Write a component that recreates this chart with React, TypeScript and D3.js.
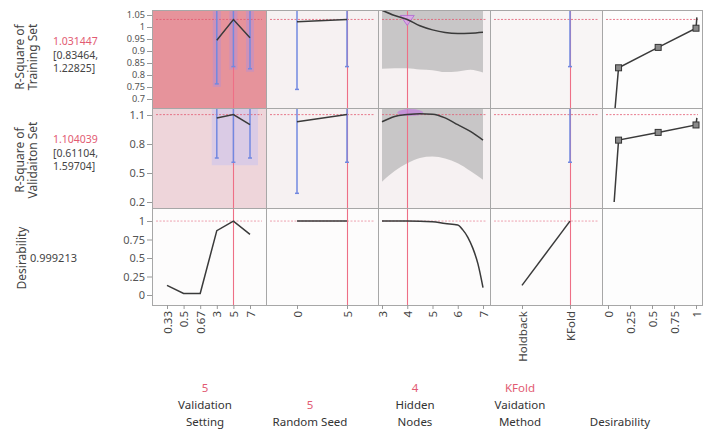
import React from "react";
import * as d3 from "d3";

const settingLevels = ["0.33", "0.5", "0.67", "3", "5", "7"];
const settingTrain = [null, null, null, 0.945, 1.031, 0.955];
const settingTrainLo = [null, null, null, 0.763, 0.835, 0.826];
const settingValid = [null, null, null, 1.069, 1.104, 1.0];
const settingValidLo = [null, null, null, 0.655, 0.611, 0.655];
const settingDesir = [0.13, 0.02, 0.02, 0.87, 0.999, 0.82];

const seedValues = [0, 5];
const seedTrain = [1.022, 1.031];
const seedTrainLo = [0.74, 0.835];
const seedValid = [1.03, 1.104];
const seedValidLo = [0.29, 0.611];
const seedDesir = [1, 0.999];

const nodeGrid = [3, 3.5, 4, 4.5, 5, 5.5, 6, 6.5, 7];
const nodesTrain = [1.07, 1.048, 1.031, 1.005, 0.988, 0.977, 0.973, 0.974, 0.978];
const nodesTrainLo = [0.826, 0.828, 0.828, 0.823, 0.82, 0.812, 0.815, 0.822, 0.81];
const nodesTrainHi = [1.32, 1.29, 1.27, 1.25, 1.24, 1.24, 1.25, 1.27, 1.3];
const nodesValid = [1.03, 1.085, 1.104, 1.113, 1.108, 1.07, 1.0, 0.93, 0.84];
const nodesValidLo = [0.41, 0.52, 0.6, 0.655, 0.67, 0.65, 0.6, 0.52, 0.43];
const nodesValidHi = [1.5, 1.55, 1.6, 1.62, 1.62, 1.6, 1.55, 1.5, 1.45];
const nodeDesirGrid = [3, 4, 5, 5.5, 6, 6.2, 6.4, 6.6, 6.8, 7];
const nodesDesir = [1, 1, 0.99, 0.965, 0.945, 0.88, 0.78, 0.63, 0.42, 0.1];

const methodLevels = ["Holdback", "KFold"];
const methodTrainLo = [null, 0.835];
const methodValidLo = [null, 0.611];
const methodDesir = [0.13, 0.999];

const desirTrainD = [0.08, 0.12, 0.57, 1.0, 1.01];
const desirTrainR = [0.66, 0.83, 0.915, 0.995, 1.04];
const desirValidD = [0.07, 0.12, 0.57, 1.0, 1.01];
const desirValidR = [0.2, 0.84, 0.92, 0.997, 1.07];

const trainTicks = [1.05, 1, 0.95, 0.9, 0.85, 0.8, 0.75, 0.7];
const validTicks = [1.1, 0.8, 0.5, 0.2];
const desirTicks = [1, 0.75, 0.5, 0.25, 0];
const seedTicks = [0, 5];
const nodeTicks = [3, 4, 5, 6, 7];
const desirXTicks = [0, 0.25, 0.5, 0.75, 1];

const currentSetting = "5";
const currentSeed = 5;
const currentNodes = 4;
const currentMethod = "KFold";
const trainValue = 1.031447;
const validValue = 1.104039;
const desirValue = 0.999213;

const factorNames = [["Validation", "Setting"], ["Random Seed"], ["Hidden", "Nodes"], ["Vaidation", "Method"], ["Desirability"]];
const factorValues = ["5", "5", "4", "KFold", ""];

const FONT = "'Noto Sans', 'Open Sans', sans-serif";
const RED = "#e25a72";

function App() {
  const ref = React.useRef(null);

  React.useEffect(() => {
    const svg = d3.select(ref.current);
    svg.selectAll("*").remove();

    const cols = [
      [152, 266],
      [266, 378],
      [378, 490],
      [490, 602],
      [602, 702],
    ];
    const rows = [
      [10, 108],
      [108, 208],
      [208, 305],
    ];

    const yScales = [
      d3.scaleLinear().domain([0.7, 1.05]).range([99, 15]),
      d3.scaleLinear().domain([0.2, 1.1]).range([202, 115]),
      d3.scaleLinear().domain([0, 1]).range([295, 221]),
    ];
    const yTicks = [trainTicks, validTicks, desirTicks];
    const yFont = ["9.2px", "11px", "11px"];

    const xSetting = d3.scalePoint().domain(settingLevels).range([167, 250]);
    const xSeed = d3.scaleLinear().domain([0, 5]).range([297, 347]);
    const xNodes = d3.scaleLinear().domain([3, 7]).range([382, 483]);
    const xMethod = d3.scalePoint().domain(methodLevels).range([522, 570]);
    const xDesir = d3.scaleLinear().domain([0, 1]).range([608, 696]);

    const bg = [
      ["#e6939b", "#f6f1f2", "#f6f1f2", "#f8f5f5", "#fdfdfd"],
      ["#eed5da", "#f6f1f2", "#f6f1f2", "#f8f5f5", "#fdfdfd"],
      ["#fdfcfc", "#fdfcfc", "#fdfcfc", "#fdfcfc", "#fdfdfd"],
    ];

    const defs = svg.append("defs");
    rows.forEach((r, ri) =>
      cols.forEach((c, ci) => {
        defs
          .append("clipPath")
          .attr("id", `clip-${ri}-${ci}`)
          .append("rect")
          .attr("x", c[0])
          .attr("y", r[0])
          .attr("width", c[1] - c[0])
          .attr("height", r[1] - r[0]);
      })
    );

    // backgrounds
    rows.forEach((r, ri) =>
      cols.forEach((c, ci) => {
        svg
          .append("rect")
          .attr("x", c[0])
          .attr("y", r[0])
          .attr("width", c[1] - c[0])
          .attr("height", r[1] - r[0])
          .attr("fill", bg[ri][ci]);
      })
    );

    const panel = (ri, ci) => svg.append("g").attr("clip-path", `url(#clip-${ri}-${ci})`);

    const line = (g, xs, ys, yS, curve = d3.curveLinear) => {
      const pts = xs.map((x, i) => [x, ys[i]]).filter((p) => p[1] != null).map((p) => [p[0], yS(p[1])]);
      g.append("path")
        .attr("d", d3.line().curve(curve)(pts))
        .attr("fill", "none")
        .attr("stroke", "#3a3a3a")
        .attr("stroke-width", 1.5);
    };

    const errBar = (g, x, lo, yS, top) => {
      g.append("line")
        .attr("x1", x).attr("x2", x)
        .attr("y1", top).attr("y2", yS(lo))
        .attr("stroke", "#7288e0")
        .attr("stroke-width", 1.5);
      g.append("line")
        .attr("x1", x - 2).attr("x2", x + 2)
        .attr("y1", yS(lo)).attr("y2", yS(lo))
        .attr("stroke", "#7288e0")
        .attr("stroke-width", 1.5);
    };

    const refLines = (g, ri, ci, xCur) => {
      const [x0, x1] = cols[ci];
      const [y0, y1] = rows[ri];
      const val = [trainValue, validValue, desirValue][ri];
      g.append("line")
        .attr("x1", x0 + 4).attr("x2", x1 - 4)
        .attr("y1", yScales[ri](val)).attr("y2", yScales[ri](val))
        .attr("stroke", RED)
        .attr("stroke-opacity", ri === 2 ? 0.55 : 0.8)
        .attr("stroke-dasharray", "2,1.5");
      if (xCur != null) {
        g.append("line")
          .attr("x1", Math.round(xCur) + 0.5).attr("x2", Math.round(xCur) + 0.5)
          .attr("y1", y0).attr("y2", y1)
          .attr("stroke", "#ee6f86")
          .attr("stroke-width", 1.1);
      }
    };

    // ---- column 1: Validation Setting ----
    {
      const xs = settingLevels.map((l) => xSetting(l));
      const g0 = panel(0, 0);
      settingTrainLo.forEach((lo, i) => {
        if (lo == null) return;
        g0.append("rect")
          .attr("x", xs[i] - 4).attr("width", 8)
          .attr("y", rows[0][0]).attr("height", yScales[0](lo) - rows[0][0] + 3)
          .attr("fill", "#a98ee0").attr("opacity", 0.4);
      });
      refLines(g0, 0, 0, xSetting(currentSetting));
      settingTrainLo.forEach((lo, i) => lo != null && errBar(g0, xs[i], lo, yScales[0], rows[0][0]));
      line(g0, xs, settingTrain, yScales[0]);

      const g1 = panel(1, 0);
      const validIdx = settingValidLo.map((v, i) => (v == null ? -1 : i)).filter((i) => i >= 0);
      g1.append("rect")
        .attr("x", xs[validIdx[0]] - 5)
        .attr("width", xs[validIdx[validIdx.length - 1]] - xs[validIdx[0]] + 13)
        .attr("y", rows[1][0])
        .attr("height", d3.max(validIdx, (i) => yScales[1](settingValidLo[i])) - rows[1][0] + 3)
        .attr("fill", "#d2c6ea").attr("opacity", 0.7);
      refLines(g1, 1, 0, xSetting(currentSetting));
      settingValidLo.forEach((lo, i) => lo != null && errBar(g1, xs[i], lo, yScales[1], rows[1][0]));
      line(g1, xs, settingValid, yScales[1]);

      const g2 = panel(2, 0);
      refLines(g2, 2, 0, xSetting(currentSetting));
      line(g2, xs, settingDesir, yScales[2]);
    }

    // ---- column 2: Random Seed ----
    {
      const xs = seedValues.map((v) => xSeed(v));
      const g0 = panel(0, 1);
      refLines(g0, 0, 1, xSeed(currentSeed));
      seedTrainLo.forEach((lo, i) => errBar(g0, xs[i], lo, yScales[0], rows[0][0]));
      line(g0, xs, seedTrain, yScales[0]);
      const g1 = panel(1, 1);
      refLines(g1, 1, 1, xSeed(currentSeed));
      seedValidLo.forEach((lo, i) => errBar(g1, xs[i], lo, yScales[1], rows[1][0]));
      line(g1, xs, seedValid, yScales[1]);
      const g2 = panel(2, 1);
      refLines(g2, 2, 1, xSeed(currentSeed));
      line(g2, xs, seedDesir, yScales[2]);
    }

    // ---- column 3: Hidden Nodes ----
    {
      const band = (g, lo, hi, yS) => {
        g.append("path")
          .attr(
            "d",
            d3
              .area()
              .curve(d3.curveMonotoneX)
              .x((d, i) => xNodes(nodeGrid[i]))
              .y0((d, i) => yS(lo[i]))
              .y1((d, i) => yS(hi[i]))(nodeGrid)
          )
          .attr("fill", "#bdbbbc")
          .attr("opacity", 0.8);
      };
      const nx = nodeGrid.map((v) => xNodes(v));
      const g0 = panel(0, 2);
      band(g0, nodesTrainLo, nodesTrainHi, yScales[0]);
      refLines(g0, 0, 2, xNodes(currentNodes));
      const tx = xNodes(currentNodes);
      const ty = yScales[0](trainValue);
      g0.append("path")
        .attr("d", `M${tx - 7},${ty - 4}L${tx + 7},${ty - 4}L${tx},${ty + 6}Z`)
        .attr("fill", "#dca6ec").attr("stroke", "#b46ad6").attr("stroke-width", 1)
        .attr("opacity", 0.85);
      line(g0, nx, nodesTrain, yScales[0], d3.curveMonotoneX);

      const g1 = panel(1, 2);
      band(g1, nodesValidLo, nodesValidHi, yScales[1]);
      refLines(g1, 1, 2, xNodes(currentNodes));
      g1.append("ellipse")
        .attr("cx", xNodes(currentNodes) + 3).attr("cy", yScales[1](validValue) - 2)
        .attr("rx", 13).attr("ry", 3.5)
        .attr("fill", "#c27ae0").attr("opacity", 0.65);
      line(g1, nx, nodesValid, yScales[1], d3.curveMonotoneX);

      const g2 = panel(2, 2);
      refLines(g2, 2, 2, xNodes(currentNodes));
      line(g2, nodeDesirGrid.map((v) => xNodes(v)), nodesDesir, yScales[2], d3.curveMonotoneX);
    }

    // ---- column 4: Validation Method ----
    {
      const xs = methodLevels.map((l) => xMethod(l));
      const g0 = panel(0, 3);
      refLines(g0, 0, 3, xMethod(currentMethod));
      methodTrainLo.forEach((lo, i) => lo != null && errBar(g0, xs[i], lo, yScales[0], rows[0][0]));
      const g1 = panel(1, 3);
      refLines(g1, 1, 3, xMethod(currentMethod));
      methodValidLo.forEach((lo, i) => lo != null && errBar(g1, xs[i], lo, yScales[1], rows[1][0]));
      const g2 = panel(2, 3);
      refLines(g2, 2, 3, xMethod(currentMethod));
      line(g2, xs, methodDesir, yScales[2]);
    }

    // ---- column 5: Desirability functions ----
    {
      const draw = (ri, ds, rs) => {
        const g = panel(ri, 4);
        refLines(g, ri, 4, null);
        const pts = ds.map((d, i) => [xDesir(d), yScales[ri](rs[i])]);
        g.append("path")
          .attr("d", d3.line()(pts))
          .attr("fill", "none").attr("stroke", "#3a3a3a").attr("stroke-width", 1.5);
        pts.slice(1, 4).forEach((p) =>
          g.append("rect")
            .attr("x", p[0] - 3).attr("y", p[1] - 3)
            .attr("width", 6).attr("height", 6)
            .attr("fill", "#8a8a8a").attr("stroke", "#333").attr("stroke-width", 1)
        );
      };
      draw(0, desirTrainD, desirTrainR);
      draw(1, desirValidD, desirValidR);
    }

    // panel borders
    rows.forEach((r) =>
      cols.forEach((c) => {
        svg.append("rect")
          .attr("x", c[0] + 0.5).attr("y", r[0] + 0.5)
          .attr("width", c[1] - c[0]).attr("height", r[1] - r[0])
          .attr("fill", "none").attr("stroke", "#a7a7a7");
      })
    );

    // y axes
    yScales.forEach((yS, ri) => {
      const ax = svg.append("g").attr("transform", `translate(${cols[0][0]},0)`)
        .call(d3.axisLeft(yS).tickValues(yTicks[ri]).tickSize(5).tickSizeOuter(0).tickFormat(d3.format("")));
      ax.select(".domain").remove();
      ax.selectAll("line").attr("stroke", "#999");
      ax.selectAll("text").attr("fill", "#555").style("font-family", FONT).style("font-size", yFont[ri]).attr("x", -7);
    });

    // x axes (rotated labels)
    const xAxes = [
      [xSetting, settingLevels],
      [xSeed, seedTicks],
      [xNodes, nodeTicks],
      [xMethod, methodLevels],
      [xDesir, desirXTicks],
    ];
    const bottom = rows[2][1];
    xAxes.forEach(([xs, ticks]) => {
      const ax = svg.append("g").attr("transform", `translate(0,${bottom})`)
        .call(d3.axisBottom(xs).tickValues(ticks).tickSize(4).tickSizeOuter(0).tickFormat((d) => String(d)));
      ax.select(".domain").remove();
      ax.selectAll("line").attr("stroke", "#999");
      ax.selectAll("text")
        .attr("fill", "#444")
        .style("font-family", FONT)
        .style("font-size", "11.5px")
        .attr("y", 0).attr("dy", 0)
        .attr("text-anchor", "end")
        .attr("transform", "translate(4,6) rotate(-90)");
    });

    // left row labels
    const rowTitle = [["R-Square of", "Training Set"], ["R-Square of", "Validaiton Set"], ["Desirability"]];
    const rowCenters = [57, 160, 258];
    rowTitle.forEach((lines, ri) => {
      lines.forEach((t, li) => {
        const x = lines.length === 1 ? 26 : 24 + li * 13;
        svg.append("text")
          .attr("transform", `translate(${x},${rowCenters[ri]}) rotate(-90)`)
          .attr("text-anchor", "middle")
          .style("font-family", FONT).style("font-size", "12px")
          .attr("fill", "#444").text(t);
      });
    });
    const rowVals = [
      ["1.031447", "[0.83464,", "1.22825]"],
      ["1.104039", "[0.61104,", "1.59704]"],
    ];
    const valTop = [45, 143];
    rowVals.forEach((vals, ri) =>
      vals.forEach((t, li) =>
        svg.append("text")
          .attr("x", 53).attr("y", valTop[ri] + li * 13.5)
          .style("font-family", FONT).style("font-size", "10.5px")
          .attr("fill", li === 0 ? RED : "#444").text(t)
      )
    );
    svg.append("text")
      .attr("x", 30).attr("y", 262)
      .style("font-family", FONT).style("font-size", "11px")
      .attr("fill", "#444").text(String(desirValue));

    // bottom factor labels
    const labelCenters = [205, 310, 415, 520, 620];
    factorNames.forEach((lines, ci) => {
      const cx = labelCenters[ci];
      const startY = lines.length === 2 ? 409 : 426;
      if (factorValues[ci]) {
        svg.append("text")
          .attr("x", cx).attr("y", startY - 17)
          .attr("text-anchor", "middle")
          .style("font-family", FONT).style("font-size", "11.5px")
          .attr("fill", RED).text(factorValues[ci]);
      }
      lines.forEach((t, li) =>
        svg.append("text")
          .attr("x", cx).attr("y", startY + li * 17)
          .attr("text-anchor", "middle")
          .style("font-family", FONT).style("font-size", "11.5px")
          .attr("fill", "#333").text(t)
      );
    });
  }, []);

  return (
    <svg
      ref={ref}
      width={706}
      height={431}
      style={{ position: "absolute", left: 0, top: 0, background: "#fff" }}
    />
  );
}

export default App;
